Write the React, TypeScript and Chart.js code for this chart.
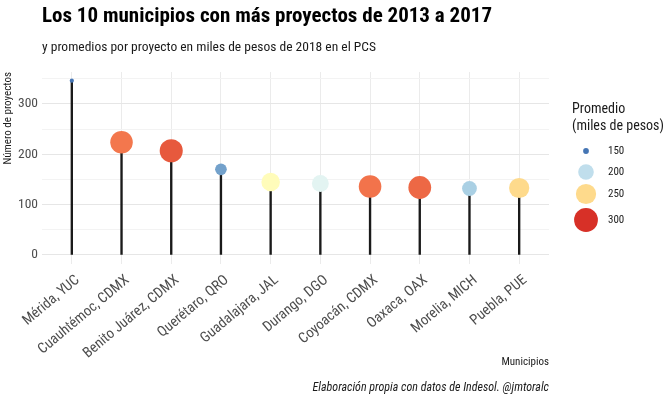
import React, { useEffect, useRef } from 'react';
import { Chart, registerables } from 'chart.js';
Chart.register(...registerables);

const municipios = ['Mérida, YUC', 'Cuauhtémoc, CDMX', 'Benito Juárez, CDMX', 'Querétaro, QRO', 'Guadalajara, JAL', 'Durango, DGO', 'Coyoacán, CDMX', 'Oaxaca, OAX', 'Morelia, MICH', 'Puebla, PUE'];
const proyectos = [346, 224, 207, 170, 145, 142, 136, 134, 132, 133];
const promedio = [149, 281, 289, 171, 230, 212, 282, 285, 193, 250];
const yTicks = [0, 50, 100, 150, 200, 250, 300, 350];
const legendValues = [150, 200, 250, 300];

const FF = "'Liberation Sans Narrow', 'Roboto Condensed', 'DejaVu Sans Condensed', 'Liberation Sans', sans-serif";
// colour scale (RdYlBu, low = blue, high = red)
const STOP_V = [150, 185, 210, 228, 248, 275, 300];
const STOP_C = ['#4575b4', '#91bfdb', '#e0f3f8', '#ffffbf', '#fee090', '#fc8d59', '#d73027'];
const SMIN = 149, SMAX = 300;

function hex(h: string) { return [1, 3, 5].map(i => parseInt(h.slice(i, i + 2), 16)); }
function colorOf(v: number) {
  let i = 0;
  while (i < STOP_V.length - 2 && v > STOP_V[i + 1]) i++;
  const f = Math.max(0, Math.min(1, (v - STOP_V[i]) / (STOP_V[i + 1] - STOP_V[i])));
  const a = hex(STOP_C[i]), b = hex(STOP_C[i + 1]);
  const c = a.map((x, k) => Math.round(x + (b[k] - x) * f));
  return `rgb(${c[0]},${c[1]},${c[2]})`;
}
function radiusOf(v: number) {
  const t = Math.max(0, Math.min(1, (v - SMIN) / (SMAX - SMIN)));
  return 2.1 + 9.8 * Math.sqrt(t);
}

const textPlugin = {
  id: 'texts',
  afterDraw(chart: any) {
    const ctx = chart.ctx;
    ctx.save();
    ctx.fillStyle = '#000';
    ctx.textBaseline = 'alphabetic';
    ctx.textAlign = 'left';
    ctx.font = `bold 21px ${FF}`;
    ctx.fillText('Los 10 municipios con más proyectos de 2013 a 2017', 42, 22);
    ctx.font = `13.5px ${FF}`;
    ctx.fillStyle = '#1a1a1a';
    ctx.fillText('y promedios por proyecto en miles de pesos de 2018 en el PCS', 42, 51);
    // legend
    ctx.font = `14px ${FF}`;
    ctx.fillText('Promedio', 572, 113);
    ctx.fillText('(miles de pesos)', 572, 130);
    const ys = [151, 172, 194, 220];
    ctx.font = `11px ${FF}`;
    ctx.textBaseline = 'middle';
    legendValues.forEach((v, i) => {
      ctx.beginPath();
      ctx.fillStyle = colorOf(v);
      ctx.arc(586, ys[i], radiusOf(v), 0, Math.PI * 2);
      ctx.fill();
      ctx.fillStyle = '#1a1a1a';
      ctx.fillText(String(v), 608, ys[i]);
    });
    // caption
    ctx.textBaseline = 'alphabetic';
    ctx.textAlign = 'right';
    ctx.font = `italic 12px ${FF}`;
    ctx.fillStyle = '#1a1a1a';
    ctx.fillText('Elaboración propia con datos de Indesol. @jmtoralc', 549, 391);
    ctx.restore();
  },
};

export default function App() {
  const ref = useRef<HTMLCanvasElement>(null);
  useEffect(() => {
    if (!ref.current) return;
    const chart = new Chart(ref.current, {
      type: 'bar',
      data: {
        datasets: [
          {
            type: 'line',
            data: proyectos.map((v, i) => ({ x: i, y: v })),
            showLine: false,
            pointRadius: promedio.map(radiusOf),
            pointHoverRadius: promedio.map(radiusOf),
            pointBackgroundColor: promedio.map(colorOf),
            pointBorderWidth: 0,
            order: 1,
          } as any,
          {
            type: 'bar',
            data: proyectos.map((v, i) => ({ x: i, y: v })),
            backgroundColor: '#1a1a1a',
            barThickness: 1.7,
            order: 2,
          } as any,
        ],
      },
      options: {
        responsive: false,
        animation: false,
        devicePixelRatio: 1,
        layout: { padding: { left: 0, right: 116, top: 72, bottom: 0 } },
        plugins: { legend: { display: false }, tooltip: { enabled: false } },
        scales: {
          x: {
            type: 'linear',
            offset: false,
            min: -0.6,
            max: 9.6,
            afterBuildTicks: (s: any) => { s.ticks = municipios.map((_, i) => ({ value: i })); },
            afterFit: (s: any) => { s.height = 131.3; },
            ticks: {
              autoSkip: false,
              minRotation: 40,
              maxRotation: 40,
              padding: 8,
              labelOffset: 6,
              color: '#4d4d4d',
              font: { family: FF, size: 14.5 },
              callback: (v: any) => municipios[v] ?? '',
            },
            grid: { color: '#ebebeb', drawTicks: false, offset: false },
            border: { display: false },
            title: {
              display: true,
              text: 'Municipios',
              align: 'end',
              color: '#1a1a1a',
              font: { family: FF, size: 11 },
              padding: { top: 0, bottom: 26 },
            },
          },
          y: {
            type: 'linear',
            min: -17.3,
            max: 363.3,
            afterBuildTicks: (s: any) => { s.ticks = yTicks.map(v => ({ value: v })); },
            afterFit: (s: any) => { s.width = 42; },
            ticks: {
              padding: 4,
              color: '#4d4d4d',
              font: { family: FF, size: 13.5 },
              callback: (v: any) => (v % 100 === 0 ? String(v) : ''),
            },
            grid: {
              color: (c: any) => (c.tick && c.tick.value % 100 === 0 ? '#e6e6e6' : '#f3f3f3'),
              drawTicks: false,
            },
            border: { display: false },
            title: {
              display: true,
              text: 'Número de proyectos',
              align: 'end',
              color: '#1a1a1a',
              font: { family: FF, size: 11 },
              padding: { top: 1.5, bottom: 0 },
            },
          },
        },
      },
      plugins: [textPlugin],
    } as any);
    return () => chart.destroy();
  }, []);
  return (
    <div style={{ position: 'fixed', left: 0, top: 0, width: 665, height: 395, background: '#fff' }}>
      <canvas ref={ref} width={665} height={395} />
    </div>
  );
}
